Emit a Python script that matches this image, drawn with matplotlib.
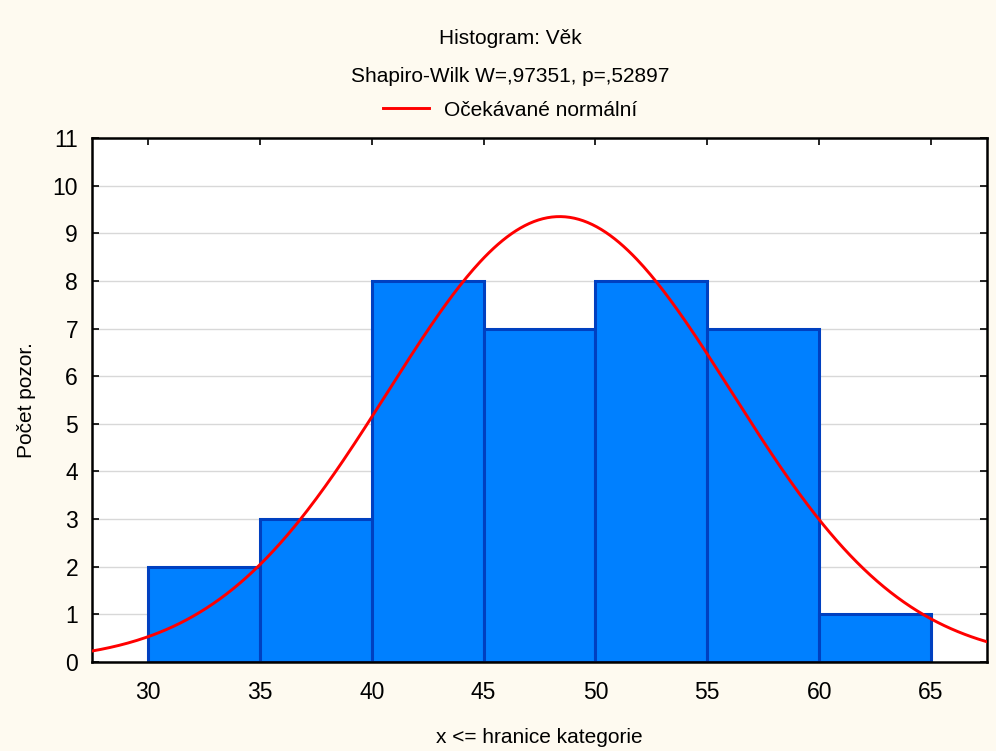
import numpy as np
import matplotlib
matplotlib.use("Agg")
import matplotlib.pyplot as plt
from matplotlib.lines import Line2D

# histogram of ages
bin_edges = [30, 35, 40, 45, 50, 55, 60, 65]
counts = [2, 3, 8, 7, 8, 7, 1]

# fitted normal (expected counts)
mean_age = 48.4
sd_age = 7.68
n_obs = sum(counts)
bin_width = 5

plt.rcParams['font.family'] = ['Liberation Sans', 'DejaVu Sans']
plt.rcParams['font.size'] = 15

bg = '#FEFAF0'
fig = plt.figure(figsize=(9.96, 7.51), dpi=100, facecolor=bg)
ax = fig.add_axes([92 / 996, 1 - 662 / 751, (987 - 92) / 996, (662 - 138) / 751])
ax.set_facecolor('white')

lefts = bin_edges[:-1]
ax.bar(lefts, counts, width=bin_width, align='edge', color='#0080FF',
       edgecolor='#0040C0', linewidth=2.2, zorder=2)

xs = np.linspace(27.5, 67.5, 400)
expected = n_obs * bin_width / (sd_age * np.sqrt(2 * np.pi)) * np.exp(-0.5 * ((xs - mean_age) / sd_age) ** 2)
ax.plot(xs, expected, color='#FF0000', linewidth=2.1, zorder=3)

ax.set_xlim(27.5, 67.5)
ax.set_ylim(0, 11)
ax.set_xticks(bin_edges)
ax.set_yticks(range(0, 12))
ax.yaxis.grid(True, color='#D8D8D8', linewidth=1, zorder=0)
ax.set_axisbelow(True)
ax.tick_params(direction='in', length=5, width=1.2, top=True, right=True, pad=10, labelsize=16.5)
ax.tick_params(axis='x', pad=14)
for s in ax.spines.values():
    s.set_linewidth(1.8)

ax.set_xlabel('x <= hranice kategorie', labelpad=17)
ax.set_ylabel('Počet pozor.', labelpad=12)

fig.text(0.512, 1 - 38 / 751, 'Histogram: Věk', ha='center', va='center')
fig.text(0.512, 1 - 76 / 751, 'Shapiro-Wilk W=,97351, p=,52897', ha='center', va='center')
handle = Line2D([], [], color='#FF0000', linewidth=2.1)
fig.legend([handle], ['Očekávané normální'], loc='center', bbox_to_anchor=(0.512, 1 - 110 / 751),
           frameon=False, handlelength=2.2, handletextpad=0.7)

fig.savefig('out.png', dpi=100, facecolor=bg)
